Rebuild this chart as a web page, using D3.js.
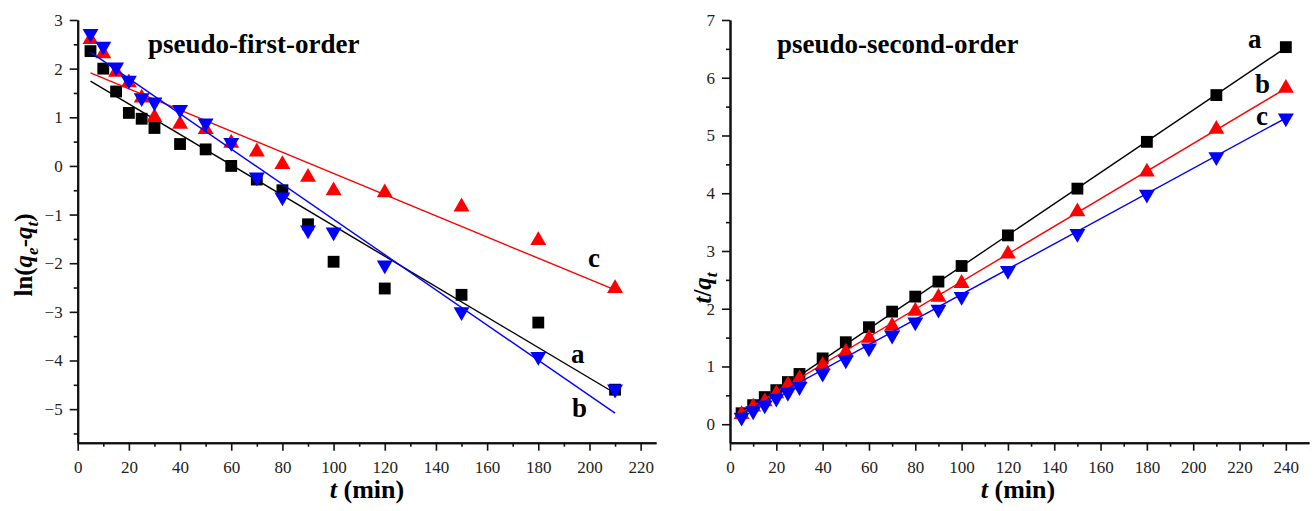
<!DOCTYPE html>
<html>
<head>
<meta charset="utf-8">
<script src="https://cdn.jsdelivr.net/npm/d3@7"></script>
<style>
  body { margin: 0; background: #fff; }
  text { font-family: "Liberation Serif", "Times New Roman", serif; }
</style>
</head>
<body>
<div id="chart"></div>
<script>
//data
const times1 = [5, 10, 15, 20, 25, 30, 40, 50, 60, 70, 80, 90, 100, 120, 150, 180, 210];
const firstA = [2.36, 2.0, 1.53, 1.09, 0.97, 0.78, 0.45, 0.34, 0.0, -0.28, -0.5, -1.2, -1.97, -2.52, -2.65, -3.22, -4.6];
const firstB = [2.72, 2.46, 2.03, 1.76, 1.4, 1.31, 1.16, 0.88, 0.48, -0.23, -0.64, -1.32, -1.36, -2.04, -3.0, -3.92, -4.59];
const firstC = [2.6, 2.31, 1.93, 1.71, 1.4, 1.0, 0.86, 0.75, 0.47, 0.29, 0.03, -0.23, -0.51, -0.55, -0.84, -1.53, -2.52];
//fit lines: [intercept, slope]
const firstFits = [[1.90, -0.0313], [2.52, -0.0362], [2.02, -0.02176]];

const times2 = [5, 10, 15, 20, 25, 30, 40, 50, 60, 70, 80, 90, 100, 120, 150, 180, 210, 240];
const secondA = [0.19, 0.33, 0.47, 0.59, 0.73, 0.87, 1.14, 1.42, 1.68, 1.95, 2.21, 2.47, 2.74, 3.27, 4.08, 4.89, 5.7, 6.53];
const secondB = [0.17, 0.3, 0.39, 0.53, 0.68, 0.79, 1.02, 1.25, 1.49, 1.7, 1.96, 2.2, 2.44, 2.95, 3.68, 4.37, 5.11, 5.82];
const secondC = [0.12, 0.23, 0.33, 0.45, 0.55, 0.65, 0.88, 1.11, 1.32, 1.54, 1.77, 1.99, 2.21, 2.66, 3.3, 3.98, 4.63, 5.3];
const secondFits = [[0.03, 0.02705], [0.08, 0.0239], [0.07, 0.0218]];

const seriesColors = ["#000000", "#0000ff", "#ff0000"];
const seriesColors2 = ["#000000", "#ff0000", "#0000ff"];

const svg = d3.select("#chart").append("svg")
  .attr("width", 1316)
  .attr("height", 511);

//marker shapes
const square = d3.symbol().type(d3.symbolSquare).size(140)();
const triUp = d3.symbol().type(d3.symbolTriangle).size(110)();

//function to draw axes with major and minor ticks (each in its own group)
const addAxes = (x, y, xMajor, xMinor, yMajor, yMinor) => {
  const x0 = x.range()[0], yBase = y.range()[1];
  const groups = [
    svg.append("g").attr("transform", `translate(0,${yBase})`)
      .call(d3.axisBottom(x).tickValues(xMinor).tickSize(4).tickSizeOuter(0).tickFormat("")),
    svg.append("g").attr("transform", `translate(0,${yBase})`)
      .call(d3.axisBottom(x).tickValues(xMajor).tickSize(8).tickSizeOuter(0).tickPadding(10).tickFormat(d3.format("d"))),
    svg.append("g").attr("transform", `translate(${x0},0)`)
      .call(d3.axisLeft(y).tickValues(yMinor).tickSize(4).tickSizeOuter(0).tickFormat("")),
    svg.append("g").attr("transform", `translate(${x0},0)`)
      .call(d3.axisLeft(y).tickValues(yMajor).tickSize(8).tickSizeOuter(0).tickPadding(7).tickFormat(d3.format("d"))),
  ];
  groups.forEach((g) => {
    g.attr("font-family", "Liberation Serif, serif").attr("font-size", 17);
    g.select(".domain").attr("stroke-width", 2).attr("stroke", "#111");
    g.selectAll(".tick line").attr("stroke-width", 1.6).attr("stroke", "#111");
    g.selectAll(".tick text").attr("fill", "#222");
  });
};

//function to draw a series with points and fit line
const drawSeries = (x, y, times, values, fit, color, shape, rotate) => {
  const t0 = times[0], t1 = times[times.length - 1];
  svg.append("line")
    .attr("x1", x(t0)).attr("y1", y(fit[0] + fit[1] * t0))
    .attr("x2", x(t1)).attr("y2", y(fit[0] + fit[1] * t1))
    .attr("stroke", color)
    .attr("stroke-width", 1.4);
  svg.append("g").selectAll("path")
    .data(times.map((t, i) => [t, values[i]]))
    .enter().append("path")
    .attr("d", shape)
    .attr("transform", (d) => `translate(${x(d[0])},${y(d[1])}) rotate(${rotate})`)
    .attr("fill", color);
};

const addLabel = (x, y, txt, size) => {
  svg.append("text")
    .attr("x", x).attr("y", y)
    .attr("font-weight", "bold")
    .style("font-size", size + "px")
    .text(txt);
};

const addXTitle = (cx) => {
  const t = svg.append("text")
    .attr("x", cx).attr("y", 498)
    .attr("text-anchor", "middle")
    .attr("font-weight", "bold")
    .style("font-size", "26px");
  t.append("tspan").attr("font-style", "italic").text("t");
  t.append("tspan").text(" (min)");
};

// ---- left panel
const x1 = d3.scaleLinear().domain([0, 226]).range([77.7, 656]);
const y1 = d3.scaleLinear().domain([3, -5.69]).range([20, 442.7]);
addAxes(x1, y1, d3.range(0, 221, 20), d3.range(10, 226, 20), d3.range(-5, 4, 1), d3.range(-5.5, 3, 1));

drawSeries(x1, y1, times1, firstA, firstFits[0], seriesColors[0], square, 0);
drawSeries(x1, y1, times1, firstC, firstFits[2], seriesColors[2], triUp, 0);
drawSeries(x1, y1, times1, firstB, firstFits[1], seriesColors[1], triUp, 180);

addLabel(148, 53, "pseudo-first-order", 27);
addLabel(571, 363, "a", 27);
addLabel(572, 417, "b", 27);
addLabel(588, 267, "c", 27);
addXTitle(367);

const yt1 = svg.append("text")
  .attr("transform", "translate(32,255) rotate(-90)")
  .attr("text-anchor", "middle")
  .attr("font-weight", "bold")
  .style("font-size", "25px");
yt1.append("tspan").text("ln(");
yt1.append("tspan").attr("font-style", "italic").text("q");
yt1.append("tspan").attr("font-style", "italic").attr("dy", 6).style("font-size", "17px").text("e");
yt1.append("tspan").attr("dy", -6).text("-");
yt1.append("tspan").attr("font-style", "italic").text("q");
yt1.append("tspan").attr("font-style", "italic").attr("dy", 6).style("font-size", "17px").text("t");
yt1.append("tspan").attr("dy", -6).text(")");

// ---- right panel
const x2 = d3.scaleLinear().domain([0, 250]).range([730, 1309]);
const y2 = d3.scaleLinear().domain([7, -0.32]).range([20, 442.7]);
addAxes(x2, y2, d3.range(0, 241, 20), d3.range(10, 250, 20), d3.range(0, 8, 1), d3.range(0.5, 7, 1));

drawSeries(x2, y2, times2, secondA, secondFits[0], seriesColors2[0], square, 0);
drawSeries(x2, y2, times2, secondB, secondFits[1], seriesColors2[1], triUp, 0);
drawSeries(x2, y2, times2, secondC, secondFits[2], seriesColors2[2], triUp, 180);

addLabel(777, 53, "pseudo-second-order", 27);
addLabel(1248, 48, "a", 27);
addLabel(1255, 93, "b", 27);
addLabel(1256, 125, "c", 27);
addXTitle(1018);

const yt2 = svg.append("text")
  .attr("transform", "translate(711,288) rotate(-90)")
  .attr("text-anchor", "middle")
  .attr("font-weight", "bold")
  .style("font-size", "25px");
yt2.append("tspan").attr("font-style", "italic").text("t");
yt2.append("tspan").text("/");
yt2.append("tspan").attr("font-style", "italic").text("q");
yt2.append("tspan").attr("font-style", "italic").attr("dy", 6).style("font-size", "17px").text("t");
</script>
</body>
</html>
